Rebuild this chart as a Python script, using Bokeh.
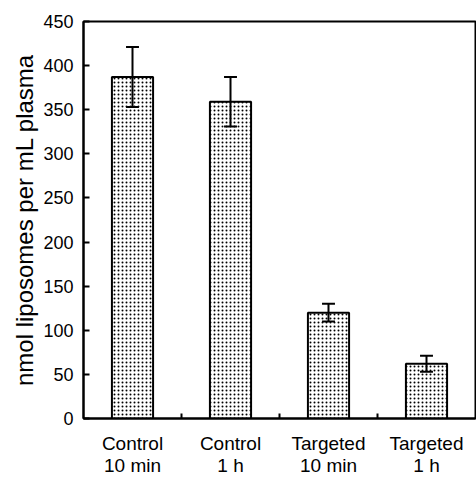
from bokeh.plotting import figure
from bokeh.models import ColumnDataSource, FixedTicker, Range1d
from bokeh.embed import file_html
from bokeh.resources import INLINE

categories = ["Control\n10 min", "Control\n1 h", "Targeted\n10 min", "Targeted\n1 h"]
values = [387, 359, 120, 62]
errors = [34, 28, 10, 9]
y_ticks = [0, 50, 100, 150, 200, 250, 300, 350, 400, 450]

xs = [i + 0.5 for i in range(len(categories))]
cap = 0.066
upper = [v + e for v, e in zip(values, errors)]
lower = [v - e for v, e in zip(values, errors)]
src = ColumnDataSource(dict(
    x=xs, top=values, upper=upper, lower=lower,
    xl=[x - cap for x in xs], xr=[x + cap for x in xs],
))

FONT = "Liberation Sans"

p = figure(width=476, height=479, output_backend="svg", toolbar_location=None,
           x_range=Range1d(0, 4), y_range=Range1d(0, 450),
           min_border_left=83, min_border_right=1, min_border_top=21, min_border_bottom=61)
p.xgrid.visible = False
p.ygrid.visible = False
p.outline_line_color = "black"
p.outline_line_width = 2

p.vbar(x="x", top="top", width=0.42, bottom=0, source=src,
       fill_color="white", line_color="black", line_width=2,
       hatch_pattern="dot", hatch_color="black", hatch_scale=4, hatch_weight=1.2)

# error bars
p.segment(x0="x", y0="lower", x1="x", y1="upper", source=src, line_color="black", line_width=2)
p.segment(x0="xl", y0="upper", x1="xr", y1="upper", source=src, line_color="black", line_width=2)
p.segment(x0="xl", y0="lower", x1="xr", y1="lower", source=src, line_color="black", line_width=2)

xa = p.xaxis[0]
xa.ticker = FixedTicker(ticks=xs, minor_ticks=[1, 2, 3])
xa.major_label_overrides = {x: c for x, c in zip(xs, categories)}
xa.major_tick_in = 0
xa.major_tick_out = 0
xa.minor_tick_in = 5
xa.minor_tick_out = 0
xa.minor_tick_line_width = 2
xa.axis_line_width = 2
xa.major_label_standoff = 14
xa.major_label_text_font = FONT
xa.major_label_text_font_size = "19px"
xa.major_label_text_line_height = 1.05
xa.major_label_text_color = "black"

ya = p.yaxis[0]
ya.ticker = FixedTicker(ticks=y_ticks)
ya.major_tick_in = 6
ya.major_tick_out = 0
ya.minor_tick_in = 0
ya.minor_tick_out = 0
ya.major_tick_line_width = 2
ya.axis_line_width = 2
ya.major_label_standoff = 10
ya.major_label_text_font = FONT
ya.major_label_text_font_size = "18px"
ya.major_label_text_color = "black"
ya.axis_label = "nmol liposomes per mL plasma"
ya.axis_label_text_font = FONT
ya.axis_label_text_font_size = "24px"
ya.axis_label_text_font_style = "normal"
ya.axis_label_text_color = "black"
ya.axis_label_standoff = 2

open("out.html", "w").write(file_html(p, INLINE))
